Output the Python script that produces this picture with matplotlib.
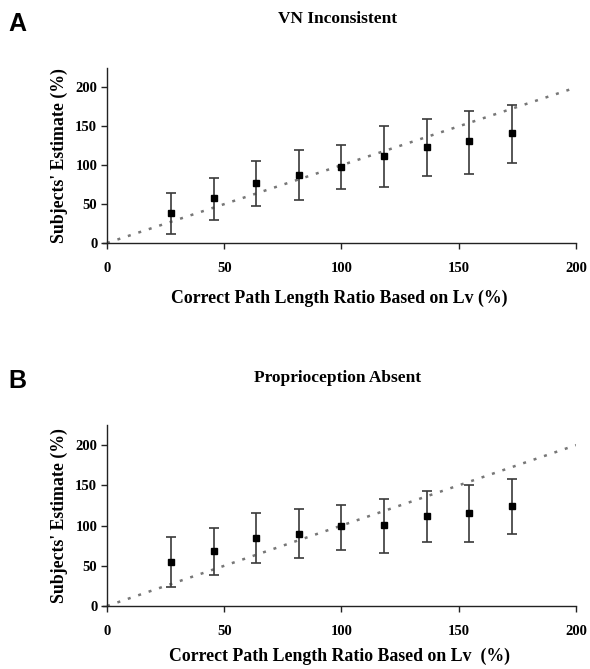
import matplotlib
matplotlib.use("Agg")
import matplotlib.pyplot as plt
import numpy as np

# Correct path length ratio (%) for each tested condition
ratios = [27.3, 45.5, 63.6, 81.8, 100.0, 118.2, 136.4, 154.5, 172.7]

# Panel A: VN inconsistent
vn_mean = [38, 58, 77, 88, 98, 112, 123, 131, 141]
vn_upper = [64, 84, 106, 119, 126, 150, 159, 170, 178]
vn_lower = [12, 30, 48, 55, 70, 72, 86, 89, 103]

# Panel B: proprioception absent
pa_mean = [55, 68, 85, 90, 99, 101, 112, 115, 124]
pa_upper = [86, 97, 115, 120, 126, 133, 143, 150, 158]
pa_lower = [23, 38, 54, 60, 70, 66, 80, 79, 89]

identity = [0, 200]
x_ticks = [0, 50, 100, 150, 200]
y_ticks = [0, 50, 100, 150, 200]

serif = ["Liberation Serif", "DejaVu Serif"]
sans = ["Liberation Sans", "DejaVu Sans"]

fig = plt.figure(figsize=(5.9, 6.69), dpi=100)

W, H = 590.0, 669.0
# axes boxes in pixels: left, bottom(y from top), right, top(y from top)
boxes = [(103, 243, 576, 68), (103, 606, 576, 425)]

panels = [
    dict(box=boxes[0], letter="A", title="VN Inconsistent",
         mean=vn_mean, upper=vn_upper, lower=vn_lower,
         xlabel="Correct Path Length Ratio Based on Lv (%)",
         letter_y=24, title_y=19, xpad=11),
    dict(box=boxes[1], letter="B", title="Proprioception Absent",
         mean=pa_mean, upper=pa_upper, lower=pa_lower,
         xlabel="Correct Path Length Ratio Based on Lv  (%)",
         letter_y=381, title_y=378, xpad=7),
]

for p in panels:
    l, b, r, t = p["box"]
    ax = fig.add_axes([l / W, 1 - b / H, (r - l) / W, (b - t) / H])
    mean = np.array(p["mean"], dtype=float)
    yerr = np.vstack([mean - np.array(p["lower"]), np.array(p["upper"]) - mean])

    ax.plot(identity, identity, linestyle=(0, (1.2, 3.2)), color="#777777",
            linewidth=1.8, zorder=1)
    ax.errorbar(ratios, mean, yerr=yerr, fmt="s", color="black", markersize=5,
                ecolor="#3a3a3a", elinewidth=1.2, capsize=3.3, capthick=1.2, zorder=3)

    ax.set_xlim(-1.7, 200)
    ax.set_ylim(0, 225)
    ax.set_xticks(x_ticks)
    ax.set_yticks(y_ticks)
    ax.spines["left"].set_position(("data", 0))
    for side in ("top", "right"):
        ax.spines[side].set_visible(False)
    for side in ("left", "bottom"):
        ax.spines[side].set_linewidth(1.0)
        ax.spines[side].set_color("#222222")
    ax.tick_params(direction="out", length=4.5, width=1.0, color="#222222")
    ax.tick_params(axis="x", pad=9)
    ax.tick_params(axis="y", pad=2.5)
    for lab in ax.get_xticklabels() + ax.get_yticklabels():
        lab.set_fontfamily(serif)
        lab.set_fontweight("bold")
        lab.set_fontsize(10.5)

    ax.set_xlabel(p["xlabel"], family=serif, fontweight="bold", fontsize=12.8,
                  labelpad=p["xpad"])
    ax.set_ylabel("Subjects' Estimate (%)", family=serif, fontweight="bold", fontsize=12.8,
                  labelpad=5)

    fig.text(8 / W, 1 - p["letter_y"] / H, p["letter"], family=sans, fontweight="bold",
             fontsize=18, ha="left", va="center")
    fig.text(338 / W, 1 - p["title_y"] / H, p["title"], family=serif, fontweight="bold",
             fontsize=12.5, ha="center", va="center")

fig.savefig("out.png", dpi=100)
